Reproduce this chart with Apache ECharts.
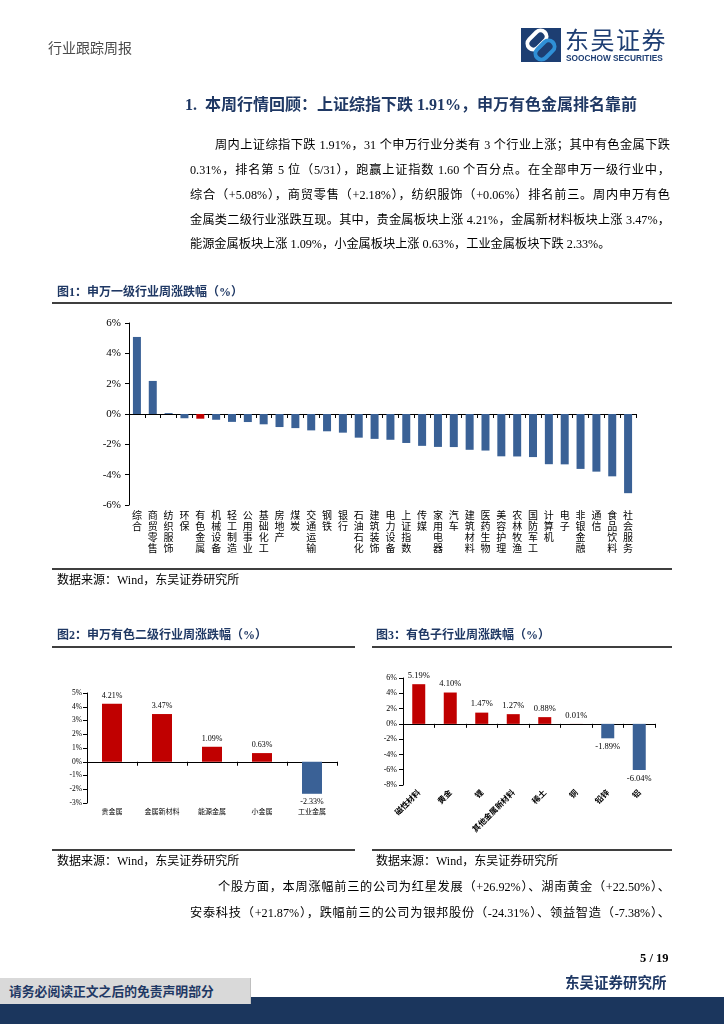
<!DOCTYPE html>
<html>
<head>
<meta charset="utf-8">
<script src="https://cdn.jsdelivr.net/npm/echarts@6/dist/echarts.min.js"></script>
<style>
html,body{margin:0;padding:0;background:#fff;}
#page{position:relative;width:724px;height:1024px;overflow:hidden;background:#fff;}
#chart{position:absolute;left:0;top:0;width:724px;height:1024px;}
.t{position:absolute;white-space:nowrap;font-family:"Liberation Serif","Noto Sans CJK SC",serif;color:#000;line-height:18px;height:18px;}
.j{position:absolute;font-family:"Liberation Serif","Noto Sans CJK SC",serif;color:#000;font-size:12.2px;line-height:18px;height:18px;text-align:justify;text-align-last:justify;}
.rule{position:absolute;background:#3f3f3f;}
.cap{font-weight:bold;color:#1f3864;font-size:12px;font-family:"Liberation Serif","Noto Sans CJK SC",serif;}
</style>
</head>
<body>
<div id="page">
<div id="chart"></div>

<!-- header -->
<div class="t" style="left:48px;top:38px;font-size:14px;color:#4a4a4a;font-family:'Noto Sans CJK SC';">行业跟踪周报</div>
<div class="t" style="left:565px;top:25px;height:28px;line-height:28px;font-size:24px;color:#1e3e73;font-family:'Noto Sans CJK SC';letter-spacing:1.5px;">东吴证券</div>
<div class="t" style="left:566px;top:52px;height:12px;line-height:12px;font-size:8.3px;font-weight:bold;color:#1e3e73;font-family:'Liberation Sans',sans-serif;">SOOCHOW SECURITIES</div>

<!-- section title -->
<div class="t" style="left:185px;top:95px;height:20px;line-height:20px;font-size:16px;font-weight:bold;color:#1f3864;">1.&nbsp;&nbsp;本周行情回顾：上证综指下跌 1.91%，申万有色金属排名靠前</div>

<!-- paragraph -->
<div class="j" style="left:215px;top:136px;width:455px;">周内上证综指下跌 1.91%，31 个申万行业分类有 3 个行业上涨；其中有色金属下跌</div>
<div class="j" style="left:190px;top:161px;width:480px;">0.31%，排名第 5 位（5/31），跑赢上证指数 1.60 个百分点。在全部申万一级行业中，</div>
<div class="j" style="left:190px;top:186px;width:480px;">综合（+5.08%），商贸零售（+2.18%），纺织服饰（+0.06%）排名前三。周内申万有色</div>
<div class="j" style="left:190px;top:211px;width:480px;">金属类二级行业涨跌互现。其中，贵金属板块上涨 4.21%，金属新材料板块上涨 3.47%，</div>
<div class="t" style="left:190px;top:235px;font-size:12.2px;">能源金属板块上涨 1.09%，小金属板块上涨 0.63%，工业金属板块下跌 2.33%。</div>

<!-- figure 1 frame -->
<div class="t cap" style="left:57px;top:283px;">图1：申万一级行业周涨跌幅（%）</div>
<div class="rule" style="left:52px;top:302px;width:620px;height:2px;"></div>
<div class="rule" style="left:52px;top:568px;width:620px;height:1.5px;"></div>
<div class="t" style="left:57px;top:571px;font-size:12px;">数据来源：Wind，东吴证券研究所</div>

<!-- figure 2 frame -->
<div class="t cap" style="left:57px;top:626px;">图2：申万有色二级行业周涨跌幅（%）</div>
<div class="rule" style="left:52px;top:646px;width:303px;height:2px;"></div>
<div class="rule" style="left:52px;top:849px;width:303px;height:1.5px;"></div>
<div class="t" style="left:57px;top:852px;font-size:12px;">数据来源：Wind，东吴证券研究所</div>

<!-- figure 3 frame -->
<div class="t cap" style="left:376px;top:626px;">图3：有色子行业周涨跌幅（%）</div>
<div class="rule" style="left:372px;top:646px;width:300px;height:2px;"></div>
<div class="rule" style="left:372px;top:849px;width:300px;height:1.5px;"></div>
<div class="t" style="left:376px;top:852px;font-size:12px;">数据来源：Wind，东吴证券研究所</div>

<!-- lower paragraph -->
<div class="j" style="left:218px;top:878px;width:452px;">个股方面，本周涨幅前三的公司为红星发展（+26.92%）、湖南黄金（+22.50%）、</div>
<div class="j" style="left:190px;top:904px;width:480px;">安泰科技（+21.87%），跌幅前三的公司为银邦股份（-24.31%）、领益智造（-7.38%）、</div>

<!-- page footer -->
<div class="t" style="left:640px;top:949px;font-size:12.5px;font-weight:bold;">5 / 19</div>
<div class="t" style="left:565px;top:973px;font-size:14.5px;font-weight:bold;color:#1f3864;font-family:'Noto Sans CJK SC';">东吴证券研究所</div>
<div style="position:absolute;left:0;top:997px;width:724px;height:27px;background:#1b365d;"></div>
<div style="position:absolute;left:0;top:978px;width:250px;height:26px;background:#d9d9d9;border-right:1px solid #bfbfbf;"></div>
<div class="t" style="left:9px;top:982px;font-size:12.8px;font-weight:bold;color:#1f3864;font-family:'Noto Sans CJK SC';">请务必阅读正文之后的免责声明部分</div>
</div>

<script>
// ---------- data ----------
const cat1 = ['综合','商贸零售','纺织服饰','环保','有色金属','机械设备','轻工制造','公用事业','基础化工','房地产','煤炭','交通运输','钢铁','银行','石油石化','建筑装饰','电力设备','上证指数','传媒','家用电器','汽车','建筑材料','医药生物','美容护理','农林牧渔','国防军工','计算机','电子','非银金融','通信','食品饮料','社会服务'];
const val1 = [5.08,2.18,0.06,-0.28,-0.31,-0.38,-0.52,-0.53,-0.68,-0.86,-0.93,-1.08,-1.14,-1.23,-1.56,-1.64,-1.70,-1.91,-2.10,-2.17,-2.18,-2.36,-2.41,-2.79,-2.80,-2.84,-3.31,-3.32,-3.62,-3.80,-4.11,-5.22];
const highlight1 = '有色金属';
const ticks1 = [-6,6,2];

const cat2 = ['贵金属','金属新材料','能源金属','小金属','工业金属'];
const val2 = [4.21,3.47,1.09,0.63,-2.33];
const ticks2 = [-3,5,1];

const cat3 = ['磁性材料','黄金','锂','其他金属新材料','稀土','铜','铅锌','铝'];
const val3 = [5.19,4.10,1.47,1.27,0.88,0.01,-1.89,-6.04];
const ticks3 = [-8,6,2];

// ---------- style ----------
const BLUE = '#3a6196', RED = '#c00000';
const SERIF = 'Liberation Serif', CJK = 'Noto Sans CJK SC';

function yAx(g, t, fs, margin){
  return {gridIndex:g, type:'value', min:t[0], max:t[1], interval:t[2],
    axisLine:{show:true, lineStyle:{color:'#000'}},
    axisTick:{show:true, length:4, lineStyle:{color:'#000'}},
    splitLine:{show:false},
    axisLabel:{formatter:'{value}%', fontFamily:SERIF, fontSize:fs, color:'#000', margin:margin}};
}
function xAx(g, cats, label){
  return {gridIndex:g, type:'category', data:cats,
    axisLine:{onZero:true, lineStyle:{color:'#000'}},
    axisTick:{show:true, interval:0, length:4, lineStyle:{color:'#000'}},
    axisLabel:Object.assign({interval:0, color:'#000'}, label)};
}
function valueLabeled(vals, fs){
  return vals.map(v => ({value:v,
    itemStyle:{color: v >= 0 ? RED : BLUE},
    label:{show:true, position: v >= 0 ? 'top' : 'bottom', distance:4,
      formatter: p => p.value.toFixed(2) + '%', fontFamily:SERIF, fontSize:fs, color:'#000'}}));
}

const chart = echarts.init(document.getElementById('chart'), null, {renderer:'canvas'});
chart.setOption({
  animation:false,
  backgroundColor:'transparent',
  grid:[
    {left:129, top:323, width:507, height:182, outerBoundsMode:'none'},
    {left:87, top:693, width:250, height:110, outerBoundsMode:'none'},
    {left:403, top:678, width:252, height:107, outerBoundsMode:'none'}
  ],
  xAxis:[
    xAx(0, cat1, {margin:5, fontFamily:CJK, fontSize:10, lineHeight:11, formatter: v => v.split('').join('\n')}),
    xAx(1, cat2, {margin:5, fontFamily:CJK, fontSize:7}),
    xAx(2, cat3, {margin:6, rotate:45, fontFamily:CJK, fontSize:8, fontWeight:'bold'})
  ],
  yAxis:[
    yAx(0, ticks1, 11, 8),
    yAx(1, ticks2, 7.5, 5),
    yAx(2, ticks3, 8, 6)
  ],
  series:[
    {type:'bar', xAxisIndex:0, yAxisIndex:0, barWidth:8,
      data: val1.map((v,i) => ({value:v, itemStyle:{color: cat1[i] === highlight1 ? RED : BLUE}}))},
    {type:'bar', xAxisIndex:1, yAxisIndex:1, barWidth:20, data: valueLabeled(val2, 8)},
    {type:'bar', xAxisIndex:2, yAxisIndex:2, barWidth:13, data: valueLabeled(val3, 8.5)}
  ],
  graphic:[
    {type:'rect', shape:{x:521, y:28, width:40, height:34}, style:{fill:'#1d3e72'}},
    {type:'rect', shape:{x:-11, y:-6, width:22, height:12, r:6}, x:537, y:40, rotation:Math.PI/4,
      style:{fill:'none', stroke:'#ffffff', lineWidth:4}},
    {type:'rect', shape:{x:-11, y:-6, width:22, height:12, r:6}, x:545, y:50, rotation:Math.PI/4,
      style:{fill:'none', stroke:'#2f8fd6', lineWidth:4}}
  ]
});
</script>
</body>
</html>
